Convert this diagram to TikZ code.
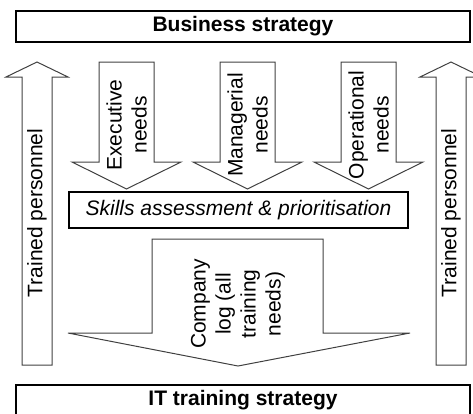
\documentclass[tikz,border=0pt]{standalone}
\usepackage{fontspec}
\setmainfont{Liberation Sans}
\begin{document}
\begin{tikzpicture}[x=1pt, y=-1pt, line join=miter,
	box/.style={draw=black, line width=1.3pt, inner sep=0pt},
	blockarrow/.style={draw=black!75, line width=1pt},
	label/.style={font=\fontsize{21}{25}\selectfont, align=center, inner sep=0pt}]
	
	% fix picture size
	\useasboundingbox (0,0) rectangle (473,413);
	\clip (0,0) rectangle (473,413);
	
	% draw strategy boxes
	\node[box, label, minimum width=454pt, minimum height=31pt, font=\fontsize{21}{25}\selectfont\bfseries] (business) at (243,26.5) {Business strategy};
	\node[box, label, minimum width=454pt, minimum height=31pt, font=\fontsize{21}{25}\selectfont\bfseries] (ittraining) at (243,400.5) {IT training strategy};
	\node[box, label, minimum width=339pt, minimum height=36pt, font=\fontsize{21}{25}\selectfont\itshape] (skills) at (238.5,210) {Skills assessment \& prioritisation};
	
	% draw up arrows (trained personnel)
	\foreach \cx/\name in {37/left, 451/right} {
		\draw[blockarrow] (\cx-15,365) -- (\cx-15,77) -- (\cx-31,77) -- (\cx,62) -- (\cx+31,77) -- (\cx+15,77) -- (\cx+15,365) -- cycle;
		\node[label, rotate=90] (trained\name) at (\cx,213) {Trained personnel};
	}
	
	% draw down arrows (needs)
	\foreach \cx/\kind in {126.5/Executive, 247.5/Managerial, 368.5/Operational} {
		\draw[blockarrow] (\cx-27.5,62) -- (\cx+27.5,62) -- (\cx+27.5,162) -- (\cx+54.5,162) -- (\cx,189) -- (\cx-54.5,162) -- (\cx-27.5,162) -- cycle;
		\node[label, rotate=90] (\kind) at (\cx,125) {\kind\\needs};
	}
	
	% draw company log arrow
	\draw[blockarrow] (152,239) -- (323,239) -- (323,333) -- (410,333) -- (238,366) -- (68,333) -- (152,333) -- cycle;
	\node[label, rotate=90] (companylog) at (238,304) {Company\\log (all\\training\\needs)};
\end{tikzpicture}
\end{document}
